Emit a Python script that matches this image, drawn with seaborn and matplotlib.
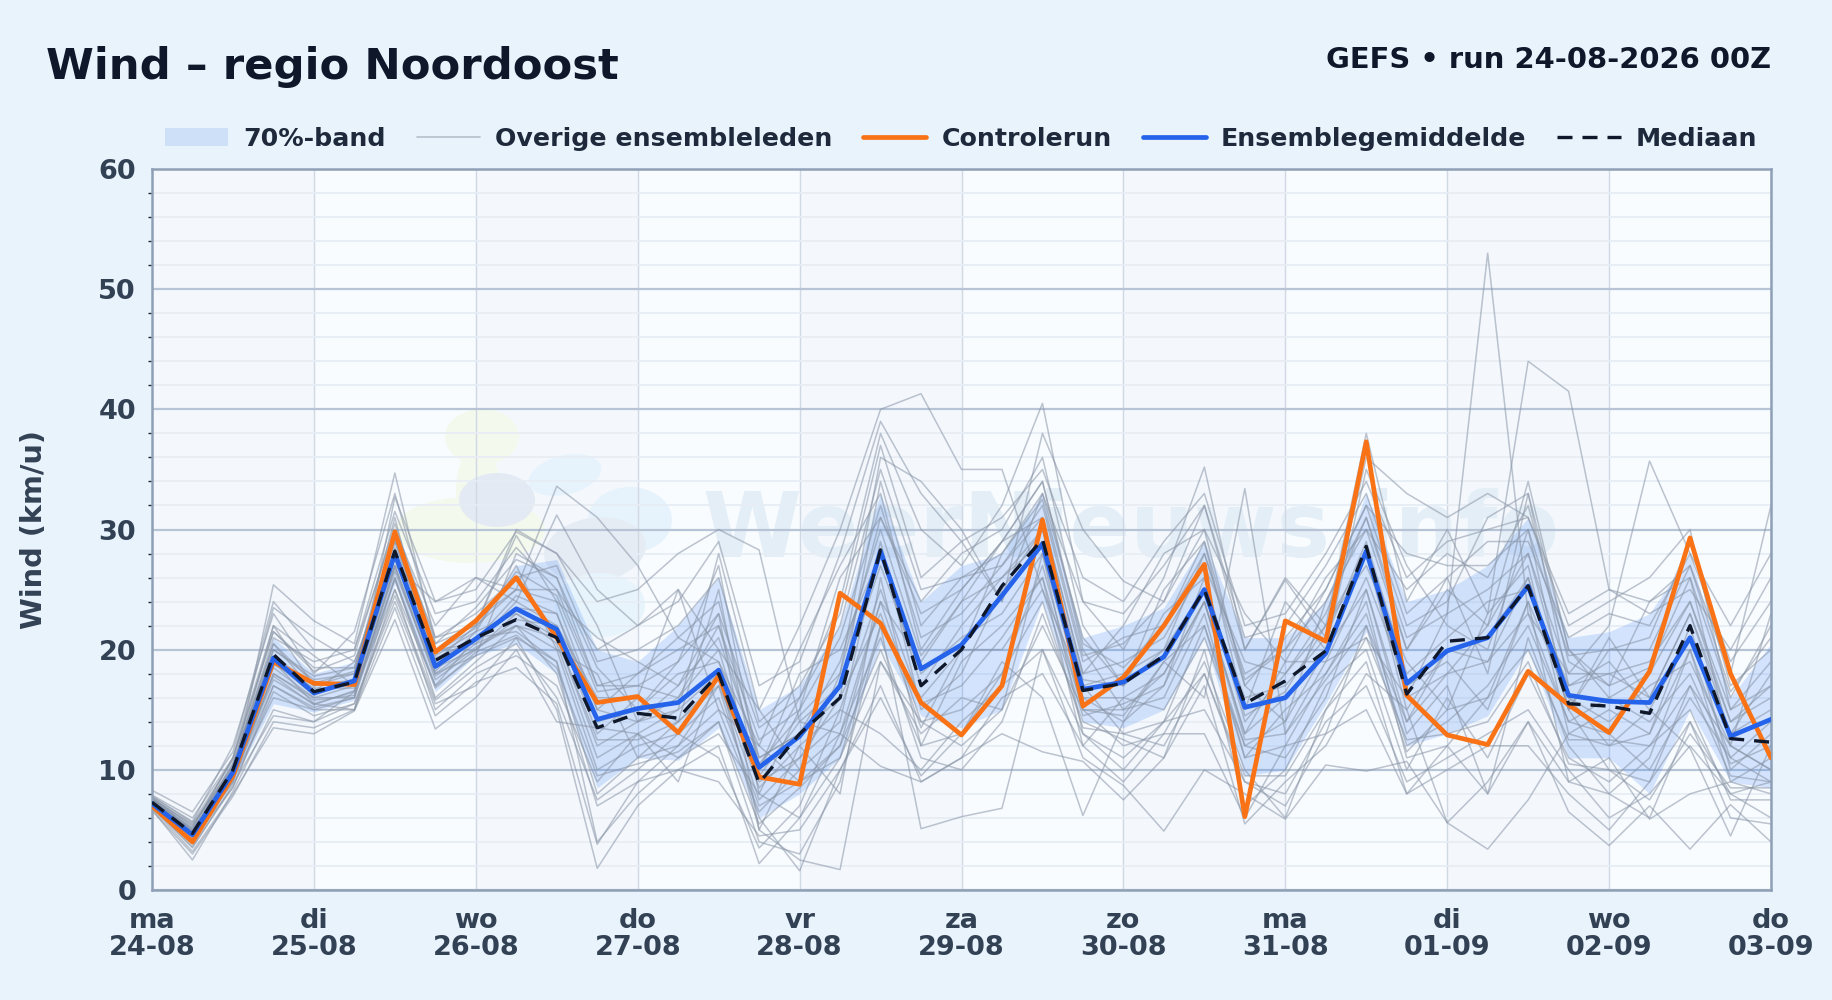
import matplotlib
matplotlib.use('Agg')
import matplotlib.pyplot as plt
from matplotlib.lines import Line2D
from matplotlib.patches import Ellipse, Patch
import numpy as np
import pandas as pd
import seaborn as sns

# steps of 6 hours from 24-08 00Z
hours = list(range(0, 246, 6))
day_ticks = list(range(0, 264, 24))
day_labels = ['ma\n24-08', 'di\n25-08', 'wo\n26-08', 'do\n27-08', 'vr\n28-08', 'za\n29-08',
              'zo\n30-08', 'ma\n31-08', 'di\n01-09', 'wo\n02-09', 'do\n03-09']

control = [7.0, 4.0, 9.5, 19.0, 17.2, 17.1, 29.8, 19.8, 22.4, 26.0, 21.0, 15.6, 16.1, 13.1, 17.8, 9.4, 8.8, 24.7, 22.2, 15.6, 12.9,
           17.0, 30.8, 15.3, 17.7, 22.0, 27.1, 6.1, 22.4, 20.7, 37.3, 16.2, 12.9, 12.1, 18.2, 15.4, 13.1, 18.2, 29.3, 18.0, 11.0]
ens_mean = [7.2, 4.6, 9.8, 19.3, 16.4, 17.4, 28.0, 18.6, 20.9, 23.4, 21.7, 14.2, 15.1, 15.6, 18.3, 10.2, 12.8, 17.0, 28.2, 18.4, 20.4,
            24.5, 28.8, 16.7, 17.3, 19.4, 25.0, 15.2, 16.0, 19.7, 28.2, 17.2, 19.9, 21.0, 25.3, 16.2, 15.7, 15.6, 21.0, 12.8, 14.2]
median = [7.3, 4.7, 10.0, 19.6, 16.5, 17.3, 28.2, 19.1, 21.0, 22.5, 21.0, 13.5, 14.7, 14.3, 18.0, 8.9, 13.0, 16.0, 28.3, 17.0, 20.0,
          25.3, 29.2, 16.6, 17.2, 19.5, 25.0, 15.5, 17.4, 19.9, 28.6, 16.3, 20.7, 21.0, 25.3, 15.5, 15.3, 14.7, 22.0, 12.6, 12.3]
band_low = [6.8, 3.8, 9.0, 15.5, 14.8, 15.8, 25.5, 16.5, 19.5, 20.5, 18.0, 8.5, 11.0, 10.8, 13.5, 6.0, 8.0, 11.0, 20.5, 14.5, 13.5,
            15.0, 24.0, 14.0, 13.5, 15.0, 21.0, 9.5, 10.0, 15.5, 21.5, 12.0, 13.0, 14.5, 20.0, 11.0, 11.0, 8.0, 15.0, 9.0, 8.5]
band_high = [7.8, 5.2, 10.8, 21.0, 18.0, 19.0, 30.0, 20.0, 22.0, 27.0, 27.5, 20.0, 19.0, 22.0, 26.0, 15.0, 17.0, 22.0, 33.0, 24.0, 27.0,
             28.0, 33.0, 21.0, 22.0, 23.5, 29.0, 21.0, 21.0, 24.0, 33.0, 24.0, 25.0, 27.0, 31.0, 21.0, 21.5, 23.0, 28.0, 16.0, 20.5]

member_01 = [7.6, 5.5, 10.2, 21.0, 19.0, 20.0, 30.0, 22.0, 26.0, 25.0, 33.6, 31.0, 27.0, 21.0, 19.0, 12.0, 9.0, 11.0, 22.0, 16.0, 20.0,
             28.0, 33.0, 21.0, 17.0, 20.0, 28.0, 17.0, 21.0, 25.0, 32.0, 22.0, 24.0, 31.0, 33.0, 20.0, 16.0, 18.0, 24.0, 14.0, 17.0]
member_02 = [7.9, 6.0, 11.0, 23.5, 21.0, 19.0, 27.0, 24.0, 25.0, 29.8, 28.0, 24.0, 25.0, 28.0, 30.0, 28.3, 14.0, 13.0, 24.0, 19.0, 24.0,
             29.0, 34.0, 20.0, 15.0, 18.0, 24.0, 13.0, 16.0, 20.0, 28.0, 16.0, 18.0, 22.0, 28.0, 16.0, 12.0, 13.0, 20.0, 11.0, 14.0]
member_03 = [7.4, 5.0, 9.5, 25.4, 22.4, 20.5, 34.7, 20.5, 22.0, 29.5, 24.0, 21.0, 19.0, 17.0, 23.0, 5.0, 2.5, 1.7, 19.0, 14.0, 12.0,
             15.0, 28.0, 13.0, 11.0, 14.0, 22.0, 11.0, 12.0, 18.0, 24.0, 11.0, 12.0, 16.0, 24.0, 9.0, 8.0, 6.0, 14.0, 8.0, 9.0]
member_04 = [7.1, 4.2, 8.5, 17.0, 15.0, 16.0, 32.7, 24.0, 26.0, 24.0, 31.2, 25.0, 22.0, 25.0, 20.0, 15.0, 22.0, 30.0, 40.0, 41.3, 35.0,
             35.0, 25.0, 17.0, 13.0, 12.0, 18.0, 9.0, 7.0, 13.0, 22.0, 14.0, 20.0, 19.0, 26.0, 15.0, 10.0, 9.0, 17.0, 12.0, 10.0]
member_05 = [6.8, 3.2, 8.0, 13.5, 13.0, 14.9, 22.5, 13.4, 16.0, 20.0, 14.0, 13.5, 13.0, 11.0, 14.0, 4.0, 3.0, 9.0, 22.0, 5.1, 6.1,
             6.8, 20.0, 11.0, 8.7, 4.9, 10.0, 8.0, 5.9, 10.4, 9.9, 10.7, 5.6, 3.4, 7.5, 13.0, 12.0, 15.0, 11.8, 4.5, 12.0]
member_06 = [7.5, 5.2, 11.0, 22.0, 17.0, 18.0, 31.0, 18.0, 19.5, 28.0, 26.0, 17.0, 17.0, 19.0, 27.0, 10.0, 16.0, 24.0, 38.0, 30.0, 27.0,
             32.0, 40.5, 24.0, 20.0, 26.0, 35.2, 20.0, 26.0, 22.0, 38.0, 24.0, 30.0, 23.0, 44.0, 41.5, 25.0, 24.0, 27.0, 18.0, 32.0]
member_07 = [7.3, 4.5, 9.0, 19.0, 15.5, 15.0, 26.0, 16.0, 19.0, 22.0, 18.0, 7.0, 9.0, 12.0, 17.0, 6.0, 1.6, 10.0, 16.0, 9.5, 13.0,
             19.0, 16.0, 6.2, 14.0, 19.0, 16.0, 33.4, 13.0, 19.0, 21.0, 16.0, 23.0, 53.0, 23.0, 18.0, 22.0, 35.7, 28.0, 22.0, 28.0]
member_08 = [6.9, 3.5, 8.8, 14.5, 14.0, 15.5, 24.0, 15.5, 17.0, 21.0, 15.0, 1.8, 7.0, 10.0, 12.0, 2.2, 6.0, 13.0, 10.3, 9.0, 11.0,
             13.0, 11.5, 10.7, 7.5, 11.0, 17.0, 5.5, 9.0, 12.0, 18.0, 15.0, 5.6, 9.0, 14.0, 6.5, 3.7, 7.0, 3.4, 7.1, 4.0]
member_09 = [7.8, 5.7, 12.0, 23.0, 18.0, 21.5, 33.0, 21.0, 22.0, 30.0, 28.0, 22.0, 14.0, 15.0, 28.0, 15.0, 10.0, 18.0, 36.0, 34.0, 30.0,
             24.0, 38.0, 30.0, 25.7, 24.0, 32.0, 20.0, 25.8, 21.0, 36.0, 33.0, 31.0, 33.0, 31.0, 22.0, 24.0, 26.0, 30.0, 15.0, 17.0]
member_10 = [7.0, 3.8, 9.2, 16.0, 15.0, 15.0, 25.0, 17.0, 21.0, 21.5, 19.0, 4.0, 8.0, 11.0, 13.0, 8.0, 6.0, 11.0, 19.0, 13.0, 16.0,
             15.0, 22.0, 15.0, 12.0, 13.0, 19.0, 10.0, 6.0, 15.0, 19.0, 8.0, 12.0, 8.0, 14.0, 9.0, 11.0, 5.9, 8.0, 9.0, 8.0]
member_11 = [7.2, 4.8, 10.5, 20.0, 17.5, 18.0, 28.5, 20.0, 20.5, 24.0, 22.0, 16.0, 16.0, 25.0, 15.0, 12.0, 20.0, 27.0, 33.0, 20.0, 25.0,
             29.0, 31.0, 18.0, 22.0, 28.0, 30.0, 17.0, 14.0, 24.0, 31.0, 20.0, 26.0, 18.0, 33.0, 17.0, 18.0, 16.0, 23.0, 13.0, 18.0]
member_12 = [6.7, 2.5, 8.2, 15.0, 14.0, 16.5, 25.0, 15.0, 18.0, 19.5, 17.0, 9.0, 13.0, 9.0, 18.0, 5.0, 12.0, 8.0, 26.0, 12.0, 19.0,
             22.0, 26.0, 12.0, 16.0, 15.0, 21.0, 12.0, 11.0, 16.0, 25.0, 13.0, 17.0, 8.0, 21.0, 12.0, 8.0, 11.0, 20.0, 9.0, 11.0]
member_13 = [7.6, 5.4, 10.0, 22.0, 19.5, 17.0, 29.0, 19.5, 21.5, 27.0, 20.0, 18.0, 11.0, 14.0, 25.0, 8.0, 15.0, 26.0, 31.0, 24.0, 28.0,
             30.0, 36.0, 22.0, 17.0, 25.0, 29.0, 15.0, 24.0, 20.0, 35.0, 27.0, 22.0, 20.0, 30.0, 15.0, 20.0, 21.0, 29.0, 17.0, 20.0]
member_14 = [7.3, 4.3, 9.0, 18.0, 16.0, 16.0, 27.0, 17.5, 20.0, 23.0, 21.0, 12.0, 14.0, 16.0, 20.0, 9.0, 11.0, 14.0, 29.0, 15.0, 18.0,
             25.0, 30.0, 16.0, 14.0, 17.0, 26.0, 14.0, 18.0, 22.0, 27.0, 19.0, 15.0, 23.0, 27.0, 13.0, 15.0, 13.0, 22.0, 10.0, 13.0]
member_15 = [7.7, 5.3, 10.5, 20.5, 16.5, 19.0, 28.0, 19.0, 22.0, 25.0, 24.0, 15.0, 18.0, 21.0, 24.0, 11.0, 13.0, 16.0, 34.0, 22.0, 26.0,
             27.0, 32.0, 19.0, 21.0, 22.0, 28.0, 18.0, 20.0, 26.0, 30.0, 25.0, 28.0, 26.0, 32.0, 19.0, 17.0, 24.0, 26.0, 16.0, 22.0]
member_16 = [7.1, 4.0, 9.5, 17.5, 15.5, 16.5, 26.5, 18.0, 20.5, 22.0, 20.0, 10.0, 12.0, 13.0, 16.0, 7.0, 9.0, 12.0, 24.0, 14.0, 15.0,
             18.0, 27.0, 15.0, 15.0, 16.0, 23.0, 11.0, 15.0, 18.0, 23.0, 12.0, 14.0, 17.0, 22.0, 14.0, 13.0, 10.0, 16.0, 11.0, 9.0]
member_17 = [7.4, 4.9, 10.0, 19.5, 17.0, 17.5, 28.0, 19.0, 21.0, 23.5, 23.0, 14.0, 15.0, 18.0, 19.0, 10.0, 18.0, 20.0, 28.0, 17.0, 22.0,
             26.0, 29.0, 17.0, 18.0, 20.0, 25.0, 16.0, 17.0, 21.0, 29.0, 18.0, 21.0, 24.0, 25.0, 17.0, 19.0, 15.0, 21.0, 13.0, 15.0]
member_18 = [6.9, 3.6, 8.6, 16.5, 14.5, 15.5, 24.5, 15.8, 18.5, 20.5, 16.0, 7.5, 10.0, 13.0, 11.0, 3.5, 7.0, 15.0, 13.0, 10.0, 14.0,
             17.0, 20.0, 13.0, 10.0, 14.0, 15.0, 9.0, 8.0, 14.0, 17.0, 9.0, 11.0, 13.0, 15.0, 10.0, 6.0, 8.0, 12.0, 8.0, 6.0]
member_19 = [7.5, 5.1, 11.0, 21.5, 18.5, 18.5, 29.5, 21.0, 23.0, 26.0, 27.0, 19.0, 20.0, 22.0, 26.0, 14.0, 17.0, 23.0, 37.0, 26.0, 29.0,
             24.0, 33.0, 24.0, 23.0, 27.0, 32.0, 21.0, 22.0, 27.0, 33.0, 23.0, 26.0, 29.0, 29.0, 21.0, 23.0, 22.0, 28.0, 19.0, 24.0]
member_20 = [7.2, 4.4, 9.8, 18.5, 16.0, 17.0, 27.5, 18.5, 20.0, 22.5, 22.0, 13.0, 16.0, 14.0, 17.0, 9.5, 14.0, 17.0, 27.0, 18.0, 21.0,
             23.0, 28.0, 16.0, 16.0, 18.0, 24.0, 13.0, 19.0, 19.0, 26.0, 17.0, 19.0, 15.0, 24.0, 16.0, 14.0, 17.0, 19.0, 12.0, 10.0]
member_21 = [7.0, 3.9, 9.3, 17.0, 15.2, 16.0, 26.0, 17.0, 19.5, 21.0, 19.0, 8.0, 11.0, 12.0, 15.0, 6.5, 10.0, 13.0, 21.0, 11.0, 10.0,
             14.0, 23.0, 14.0, 12.5, 11.0, 20.0, 7.0, 10.0, 17.0, 20.0, 10.0, 16.0, 11.0, 18.0, 11.0, 9.0, 12.0, 15.0, 7.5, 7.5]
member_22 = [8.3, 6.5, 11.5, 24.0, 20.0, 20.0, 31.5, 23.0, 24.0, 28.5, 25.0, 20.0, 22.0, 24.0, 29.0, 17.0, 19.0, 28.0, 39.0, 33.0, 29.0,
             31.0, 35.0, 26.0, 24.0, 29.0, 33.0, 22.0, 23.0, 28.0, 34.0, 26.0, 29.0, 30.0, 31.0, 23.0, 25.0, 23.0, 25.0, 20.0, 26.0]
member_23 = [7.3, 4.6, 9.7, 18.8, 16.8, 16.8, 27.0, 18.2, 21.5, 23.0, 20.5, 11.0, 13.0, 15.0, 18.0, 8.5, 12.0, 15.0, 25.0, 15.5, 17.0,
             21.0, 26.0, 15.0, 14.5, 19.0, 22.0, 12.0, 14.0, 20.0, 25.0, 14.0, 18.0, 19.0, 23.0, 14.0, 16.0, 14.0, 18.0, 10.5, 12.0]
member_24 = [7.6, 5.0, 10.3, 20.0, 17.8, 18.5, 29.0, 20.0, 22.5, 25.0, 25.0, 17.0, 18.0, 20.0, 22.0, 12.5, 15.0, 21.0, 32.0, 21.0, 23.0,
             27.0, 31.0, 18.0, 19.0, 21.0, 27.0, 19.0, 18.0, 23.0, 31.0, 21.0, 23.0, 25.0, 28.0, 18.0, 18.0, 19.0, 24.0, 15.0, 19.0]
member_25 = [6.6, 3.0, 7.8, 14.0, 13.5, 15.0, 23.5, 14.5, 17.3, 18.5, 15.5, 3.8, 9.0, 10.0, 9.0, 4.5, 5.0, 10.0, 17.0, 9.0, 11.0,
             16.0, 18.0, 12.0, 9.0, 13.0, 13.0, 6.0, 12.0, 13.0, 15.0, 8.0, 10.0, 12.0, 12.0, 8.0, 5.0, 9.0, 14.0, 6.0, 5.5]
member_26 = [7.4, 4.7, 9.9, 19.0, 16.2, 17.6, 28.3, 19.3, 20.8, 24.5, 23.0, 15.0, 14.0, 17.0, 21.0, 11.0, 13.0, 19.0, 30.0, 19.5, 24.0,
             26.0, 30.0, 17.5, 17.0, 23.0, 26.0, 14.5, 16.5, 22.0, 28.0, 15.0, 20.0, 21.0, 26.0, 15.0, 21.0, 16.0, 23.0, 14.0, 16.0]
member_27 = [7.1, 4.2, 9.4, 18.0, 15.8, 16.2, 26.8, 17.8, 20.2, 22.0, 21.0, 12.5, 12.5, 14.0, 17.5, 7.5, 11.0, 16.0, 23.0, 13.5, 20.0,
             20.0, 25.0, 14.5, 15.5, 17.0, 24.0, 12.5, 13.0, 17.5, 22.0, 11.5, 15.0, 16.0, 20.0, 12.5, 12.5, 12.0, 17.0, 9.5, 9.0]
member_28 = [7.8, 5.6, 10.8, 21.5, 18.2, 19.5, 30.5, 20.5, 23.5, 27.5, 26.0, 18.5, 15.0, 19.0, 23.0, 13.5, 16.0, 22.0, 35.0, 25.0, 26.0,
             28.0, 32.5, 19.5, 20.5, 24.0, 30.0, 23.0, 19.0, 25.0, 32.0, 28.0, 27.0, 27.0, 30.0, 19.5, 20.0, 20.0, 27.0, 16.5, 21.0]
member_29 = [7.2, 4.5, 9.6, 17.8, 15.4, 16.6, 25.8, 16.8, 19.8, 21.2, 18.5, 9.5, 10.5, 11.5, 14.0, 5.5, 8.5, 12.0, 20.0, 12.0, 13.0,
             18.0, 24.0, 13.5, 13.0, 14.0, 18.0, 9.5, 9.5, 15.0, 21.0, 12.5, 13.0, 14.0, 19.0, 10.5, 10.0, 7.5, 13.0, 8.5, 8.5]
member_30 = [7.5, 4.9, 10.1, 20.5, 17.2, 18.2, 29.2, 19.8, 21.8, 26.5, 24.5, 16.5, 17.0, 16.0, 22.0, 10.5, 14.5, 18.0, 31.0, 23.0, 25.0,
             29.0, 34.0, 20.5, 18.5, 22.0, 29.0, 17.5, 20.0, 24.0, 30.0, 20.0, 25.0, 22.0, 34.0, 20.0, 17.0, 18.5, 26.0, 12.0, 23.0]

members = [member_01, member_02, member_03, member_04, member_05, member_06, member_07, member_08, member_09, member_10,
           member_11, member_12, member_13, member_14, member_15, member_16, member_17, member_18, member_19, member_20,
           member_21, member_22, member_23, member_24, member_25, member_26, member_27, member_28, member_29, member_30]

BG = '#e8f3fc'
sns.set_theme(style='white')
plt.rcParams['font.family'] = ['DejaVu Sans']

rows = []
for i, values in enumerate(members):
    rows.append(pd.DataFrame({'hour': hours, 'wind': values, 'member': i}))
df_members = pd.concat(rows, ignore_index=True)

fig = plt.figure(figsize=(18.32, 10), dpi=100, facecolor=BG)
ax = fig.add_axes([152 / 1832, 1 - 890 / 1000, (1771 - 152) / 1832, (890 - 169) / 1000])
ax.set_facecolor('#f9fcff')

# alternating day shading
for start in day_ticks[:-1][::2]:
    ax.axvspan(start, start + 24, color='#f4f8fd', lw=0, zorder=0.1)


# watermark blobs, picture pixels
def blob(cx, cy, w, h, color, angle=0):
    ax.add_patch(Ellipse(((cx - 152) / 1619, (890 - cy) / 721), w / 1619, h / 721, angle=-angle, color=color, lw=0,
                         transform=ax.transAxes, zorder=0.2))


blob(482, 437, 74, 56, '#f4f9ed')
blob(478, 490, 44, 90, '#f4f9ed')
blob(470, 530, 150, 66, '#f4f9ed', 10)
blob(497, 500, 76, 54, '#e3eaf3')
blob(565, 475, 66, 44, '#e7f3fc', 25)
blob(630, 520, 84, 66, '#e7f3fc')
blob(595, 550, 100, 66, '#e6ecf4', 10)
blob(600, 605, 90, 64, '#e8f4fc')
ax.text(702 / 1832, 1 - 532 / 1000, 'WeerNieuws.info', fontsize=64.5, fontweight='bold', color='#e4eef7', zorder=0.3,
        va='center', ha='left', transform=fig.transFigure)

ax.fill_between(hours, band_low, band_high, color='#3b82f6', alpha=0.2, lw=0, zorder=1.5)
sns.lineplot(data=df_members, x='hour', y='wind', units='member', estimator=None, color='#8894a6', alpha=0.55,
             linewidth=1.1, ax=ax, legend=False, zorder=2)
sns.lineplot(x=hours, y=control, color='#f97316', linewidth=3.4, ax=ax, zorder=3)
sns.lineplot(x=hours, y=ens_mean, color='#2563eb', linewidth=3.4, ax=ax, zorder=4)
sns.lineplot(x=hours, y=median, color='#0f172a', linewidth=2.4, linestyle=(0, (4.5, 3)), ax=ax, zorder=5)

ax.set_xlim(0, 240)
ax.set_ylim(0, 60)
ax.set_xticks(day_ticks)
ax.set_xticklabels(day_labels, linespacing=1.07)
ax.set_yticks(range(0, 70, 10))
ax.set_yticks(range(0, 62, 2), minor=True)
ax.set_axisbelow(True)
ax.grid(True, axis='y', which='major', color='#b6c4d6', linewidth=1.6, zorder=0.6)
ax.grid(True, axis='y', which='minor', color='#e7edf4', linewidth=1.3, zorder=0.5)
ax.grid(True, axis='x', which='major', color='#d0d8e4', linewidth=1.0, zorder=0.6)
ax.tick_params(axis='x', which='major', length=0, labelsize=19.5, labelcolor='#334155', pad=13)
ax.tick_params(axis='y', which='major', length=0, labelsize=19.5, labelcolor='#334155', pad=11.5)
ax.tick_params(axis='y', which='minor', length=3, width=1, color='#1e293b', left=True)
for label in ax.get_xticklabels() + ax.get_yticklabels():
    label.set_fontweight('bold')
for spine in ax.spines.values():
    spine.set_color('#8fa0b6')
    spine.set_linewidth(1.8)

ax.set_xlabel('')
ax.set_ylabel('Wind (km/u)', fontsize=20.8, fontweight='bold', color='#334155')
ax.yaxis.set_label_coords(-0.0643, 0.5)

fig.text(46 / 1832, 1 - 67 / 1000, 'Wind – regio Noordoost', fontsize=31.2, fontweight='bold', color='#0f172a', va='center')
fig.text(1771 / 1832, 1 - 60 / 1000, 'GEFS • run 24-08-2026 00Z', fontsize=20.85, fontweight='bold', color='#0f172a',
         va='center', ha='right')

handles = [Patch(color='#cde0f8', lw=0), Line2D([], [], color='#b6bfcc', lw=1.2), Line2D([], [], color='#f97316', lw=3.4),
           Line2D([], [], color='#2563eb', lw=3.4), Line2D([], [], color='#0f172a', lw=2.4, linestyle=(0, (4.5, 3)))]
names = ['70%-band', 'Overige ensembleleden', 'Controlerun', 'Ensemblegemiddelde', 'Mediaan']
fig.legend(handles, names, loc='center right', bbox_to_anchor=(1780 / 1832, 1 - 139 / 1000), ncol=5, frameon=False,
           prop={'size': 18.2, 'weight': 'bold'}, labelcolor='#1e293b', handlelength=2.5, columnspacing=1.22, handletextpad=0.6)

plt.savefig('out.png', dpi=100, facecolor=BG)
